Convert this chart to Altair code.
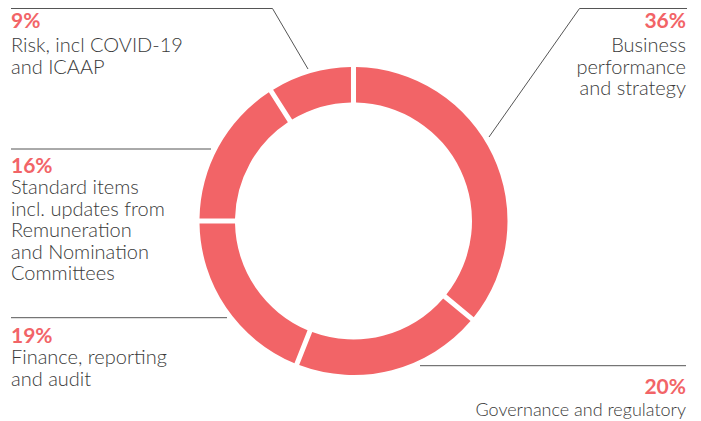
import altair as alt
import pandas as pd

# ---- data ----
categories = [
    "Business performance and strategy",
    "Governance and regulatory",
    "Finance, reporting and audit",
    "Standard items incl. updates from Remuneration and Nomination Committees",
    "Risk, incl COVID-19 and ICAAP",
]
values = [36, 20, 19, 16, 9]
label_text = [
    "Business\nperformance\u00a0\nand strategy",
    "Governance and regulatory",
    "Finance, reporting\nand audit",
    "Standard items\nincl. updates from\nRemuneration\nand Nomination\nCommittees",
    "Risk, incl COVID-19\nand ICAAP",
]

# ---- layout (chart pixel coordinates) ----
label_x = [678, 678, 3, 3, 3]
pct_y = [20, 386, 335, 165, 20]
desc_y = [44, 408, 356, 186, 44]
label_side = ["right", "right", "left", "left", "left"]
label_size = [20, 18, 20, 20, 20]

leader_seg = ["b", "b", "b", "g", "g", "f", "f", "s", "s", "r", "r", "r"]
leader_x = [679, 571.5, 481, 412, 678, 3, 219, 3, 203, 3, 264.5, 300]
leader_y = [0.5, 0.5, 129, 357.7, 357.7, 309.7, 309.7, 141, 141, 0.5, 0.5, 61]

RED = "#F26467"
TEXT = "#3a3a3a"
FONT = "Lato"

arc_df = pd.DataFrame({"cat": categories, "value": values, "idx": range(len(values))})
lab_df = pd.DataFrame({
    "cat": categories,
    "pct": [f"{v}%" for v in values],
    "desc": label_text,
    "x": label_x,
    "py": pct_y,
    "dy": desc_y,
    "side": label_side,
    "fs": label_size,
})
line_df = pd.DataFrame({
    "seg": leader_seg,
    "x": leader_x,
    "y": leader_y,
    "pt": range(len(leader_x)),
})

arcs = alt.Chart(arc_df).mark_arc(
    radius=154, radius2=118.5, padAngle=0.026, color=RED
).encode(
    theta=alt.Theta("value:Q", stack=True),
    order=alt.Order("idx:Q"),
    x=alt.value(345.5),
    y=alt.value(213),
)

lines = alt.Chart(line_df).mark_line(color="#555555", strokeWidth=1).encode(
    x=alt.X("x:Q", scale=None, axis=None),
    y=alt.Y("y:Q", scale=None, axis=None),
    detail="seg:N",
    order="pt:Q",
)

def text_layers(side):
    base = alt.Chart(lab_df).transform_filter(alt.datum.side == side)
    pct = base.mark_text(
        align=side, baseline="alphabetic", font=FONT, fontSize=21,
        fontWeight="bold", color=RED
    ).encode(
        x=alt.X("x:Q", scale=None, axis=None),
        y=alt.Y("py:Q", scale=None, axis=None),
        text="pct:N",
    )
    desc = base.mark_text(
        align=side, baseline="alphabetic", font=FONT,
        fontWeight=300, color=TEXT, lineBreak="\n", lineHeight=21.5
    ).encode(
        x=alt.X("x:Q", scale=None, axis=None),
        y=alt.Y("dy:Q", scale=None, axis=None),
        size=alt.Size("fs:Q", scale=None, legend=None),
        text="desc:N",
    )
    return [pct, desc]

chart = alt.layer(
    lines, arcs, *text_layers("left"), *text_layers("right")
).properties(
    width=685, height=413, padding=0, autosize="none"
).configure_view(stroke=None)

chart.save("out.html", embed_options={"renderer": "svg", "actions": False})
